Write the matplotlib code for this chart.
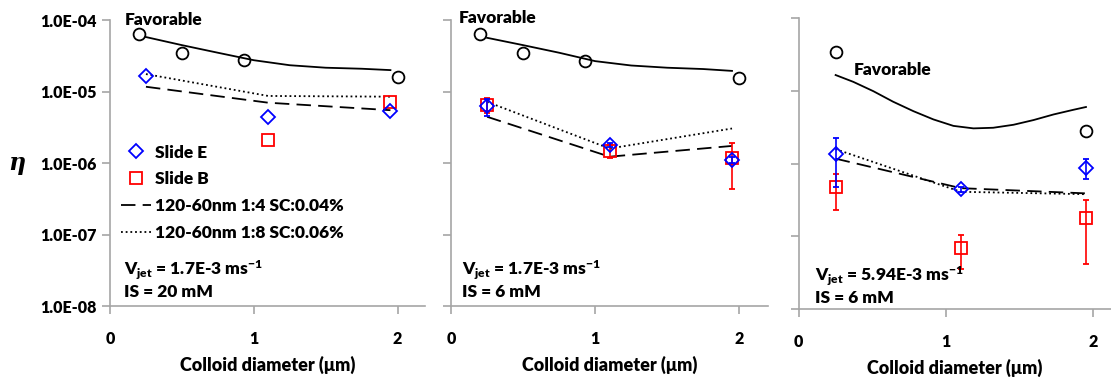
import matplotlib
matplotlib.use("Agg")
import matplotlib.pyplot as plt
from matplotlib.ticker import FixedLocator, FixedFormatter

plt.rcParams['font.family'] = ['Lato', 'DejaVu Sans']
plt.rcParams['font.weight'] = 'heavy'
plt.rcParams['axes.labelweight'] = 'heavy'
plt.rcParams['mathtext.fontset'] = 'custom'
plt.rcParams['mathtext.bf'] = 'Lato:heavy'
plt.rcParams['mathtext.rm'] = 'Lato:heavy'
plt.rcParams['mathtext.default'] = 'bf'

# ---- data ----
y_ticks = [1e-8, 1e-7, 1e-6, 1e-5, 1e-4]
y_tick_labels = ["1.0E-08", "1.0E-07", "1.0E-06", "1.0E-05", "1.0E-04"]
x_ticks = [0, 1, 2]

# panel 1 : Vjet 1.7E-3, IS 20 mM
p1_fav_x = [0.2, 0.5, 0.93, 2.0]
p1_fav_y = [6.5e-5, 3.5e-5, 2.75e-5, 1.6e-5]
p1_favline_x = [0.25, 0.5, 0.75, 1.0, 1.25, 1.5, 1.75, 1.95]
p1_favline_y = [5.8e-5, 4.47e-5, 3.5e-5, 2.75e-5, 2.34e-5, 2.16e-5, 2.09e-5, 2.0e-5]
p1_e_x = [0.25, 1.1, 1.95]
p1_e_y = [1.66e-5, 4.4e-6, 5.3e-6]
p1_b_x = [1.1, 1.95]
p1_b_y = [2.1e-6, 7.1e-6]
p1_dash_x = [0.25, 1.1, 1.95]
p1_dash_y = [1.17e-5, 7.0e-6, 5.5e-6]
p1_dot_x = [0.25, 1.1, 1.95]
p1_dot_y = [1.76e-5, 8.7e-6, 8.5e-6]

# panel 2 : Vjet 1.7E-3, IS 6 mM
p2_fav_x = [0.2, 0.5, 0.93, 2.0]
p2_fav_y = [6.4e-5, 3.5e-5, 2.7e-5, 1.53e-5]
p2_favline_x = [0.25, 0.5, 0.75, 1.0, 1.25, 1.5, 1.75, 1.95]
p2_favline_y = [5.66e-5, 4.47e-5, 3.5e-5, 2.67e-5, 2.32e-5, 2.16e-5, 2.07e-5, 1.95e-5]
p2_e_x = [0.25, 1.1, 1.95]
p2_e_y = [6.2e-6, 1.8e-6, 1.1e-6]
p2_e_err = [1.7e-6, 0.1e-6, 0.1e-6]
p2_b_x = [0.25, 1.1, 1.95]
p2_b_y = [6.6e-6, 1.48e-6, 1.18e-6]
p2_b_err = [1.6e-6, 0.3e-6, 0.75e-6]
p2_dash_x = [0.25, 1.1, 1.95]
p2_dash_y = [4.45e-6, 1.23e-6, 1.74e-6]
p2_dot_x = [0.25, 1.1, 1.95]
p2_dot_y = [7.2e-6, 1.6e-6, 3.05e-6]

# panel 3 : Vjet 5.94E-3, IS 6 mM
p3_fav_x = [0.25, 1.95]
p3_fav_y = [3.45e-5, 2.83e-6]
p3_favline_x = [0.25, 0.37, 0.506, 0.64, 0.778, 0.914, 1.05, 1.186,
                1.32, 1.458, 1.594, 1.73, 1.866, 1.95]
p3_favline_y = [1.65e-5, 1.33e-5, 9.9e-6, 7.1e-6, 5.26e-6, 4.05e-6, 3.3e-6,
                3.05e-6, 3.11e-6, 3.42e-6, 3.97e-6, 4.74e-6, 5.5e-6, 6.0e-6]
p3_e_x = [0.25, 1.1, 1.95]
p3_e_y = [1.35e-6, 4.43e-7, 8.8e-7]
p3_e_err = [0.87e-6, 0.3e-7, 0.26e-6]
p3_b_x = [0.25, 1.1, 1.95]
p3_b_y = [4.72e-7, 7.0e-8, 1.77e-7]
p3_b_err = [0.245e-6, 0.34e-7, 0.135e-6]
p3_dash_x = [0.25, 1.1, 1.95]
p3_dash_y = [1.17e-6, 4.6e-7, 3.9e-7]
p3_dot_x = [0.25, 1.1, 1.95]
p3_dot_y = [1.58e-6, 4.1e-7, 3.8e-7]

AXIS_GREY = '#A6A6A6'
BLUE = '#0000FF'
RED = '#FF0000'
FS = 12.5
TICK_FS = 11.5


def style_axes(ax, xmax, show_ylabels):
    ax.set_yscale('log')
    ax.set_ylim(1e-8, 1e-4)
    ax.set_xlim(0, xmax)
    for s in ['top', 'right']:
        ax.spines[s].set_visible(False)
    for s in ['left', 'bottom']:
        ax.spines[s].set_color(AXIS_GREY)
        ax.spines[s].set_linewidth(1.2)
    ax.yaxis.set_major_locator(FixedLocator(y_ticks))
    ax.yaxis.set_minor_locator(FixedLocator([]))
    if show_ylabels:
        ax.yaxis.set_major_formatter(FixedFormatter(y_tick_labels))
    else:
        ax.yaxis.set_major_formatter(FixedFormatter([''] * len(y_ticks)))
    ax.set_xticks(x_ticks)
    ax.set_xticklabels([str(t) for t in x_ticks])
    ax.tick_params(axis='both', direction='out', color=AXIS_GREY, width=1.2,
                   length=6, labelsize=TICK_FS)
    ax.tick_params(axis='x', pad=12)
    ax.set_xlabel('Colloid diameter (μm)', fontsize=13, labelpad=6)


def draw_panel(ax, fav_x, fav_y, fl_x, fl_y, e_x, e_y, b_x, b_y,
               dash_x, dash_y, dot_x, dot_y, e_err=None, b_err=None):
    ax.plot(fl_x, fl_y, color='black', lw=1.3)
    ax.plot(dash_x, dash_y, color='black', lw=1.3, dashes=(8, 4),
            label='120-60nm 1:4 SC:0.04%')
    ax.plot(dot_x, dot_y, color='black', lw=1.3, dashes=(1, 1.6),
            label='120-60nm 1:8 SC:0.06%')
    ax.plot(fav_x, fav_y, 'o', mfc='none', mec='black', ms=8.5, mew=1.3)
    ax.errorbar(b_x, b_y, yerr=b_err, fmt='s', mfc='none', mec=RED, ms=8,
                mew=1.3, ecolor=RED, elinewidth=1.2, capsize=2,
                label='Slide B', zorder=3)
    ax.errorbar(e_x, e_y, yerr=e_err, fmt='D', mfc='none', mec=BLUE, ms=7,
                mew=1.3, ecolor=BLUE, elinewidth=1.2, capsize=2,
                label='Slide E', zorder=4)


fig = plt.figure(figsize=(11.11, 3.77), dpi=100)
ax1 = fig.add_axes([0.099, 0.188, 0.2835, 0.7586])
ax2 = fig.add_axes([0.406, 0.188, 0.2853, 0.7586])
ax3 = fig.add_axes([0.719, 0.180, 0.281, 0.772])

draw_panel(ax1, p1_fav_x, p1_fav_y, p1_favline_x, p1_favline_y,
           p1_e_x, p1_e_y, p1_b_x, p1_b_y, p1_dash_x, p1_dash_y,
           p1_dot_x, p1_dot_y)
draw_panel(ax2, p2_fav_x, p2_fav_y, p2_favline_x, p2_favline_y,
           p2_e_x, p2_e_y, p2_b_x, p2_b_y, p2_dash_x, p2_dash_y,
           p2_dot_x, p2_dot_y, e_err=p2_e_err, b_err=p2_b_err)
draw_panel(ax3, p3_fav_x, p3_fav_y, p3_favline_x, p3_favline_y,
           p3_e_x, p3_e_y, p3_b_x, p3_b_y, p3_dash_x, p3_dash_y,
           p3_dot_x, p3_dot_y, e_err=p3_e_err, b_err=p3_b_err)

style_axes(ax1, 2.19, True)
style_axes(ax2, 2.2, False)
style_axes(ax3, 2.12, False)

fig.text(0.007, 0.567, 'η', fontsize=17, family='DejaVu Serif',
         style='italic', fontweight='bold', ha='left', va='center')

# legend in first panel
h, l = ax1.get_legend_handles_labels()
order = ['Slide E', 'Slide B', '120-60nm 1:4 SC:0.04%', '120-60nm 1:8 SC:0.06%']
hd = dict(zip(l, h))
ax1.legend([hd[k] for k in order], order, loc='upper left',
           bbox_to_anchor=(0.035, 0.565), frameon=False, fontsize=FS,
           handlelength=1.7, handletextpad=0.25, labelspacing=0.62,
           borderaxespad=0, borderpad=0)

# annotations
ax1.text(0.1, 1.0e-4, 'Favorable', fontsize=FS, ha='left', va='center')
ax2.text(0.05, 1.08e-4, 'Favorable', fontsize=FS, ha='left', va='center')
ax3.text(0.37, 1.95e-5, 'Favorable', fontsize=FS, ha='left', va='center')

ax1.text(0.1, 1.2e-8, 'V$_{jet}$ = 1.7E-3 ms$^{-1}$\nIS = 20 mM',
         fontsize=FS, ha='left', va='bottom', linespacing=1.2)
ax2.text(0.075, 1.2e-8, 'V$_{jet}$ = 1.7E-3 ms$^{-1}$\nIS = 6 mM',
         fontsize=FS, ha='left', va='bottom', linespacing=1.2)
ax3.text(0.11, 1.12e-8, 'V$_{jet}$ = 5.94E-3 ms$^{-1}$\nIS = 6 mM',
         fontsize=FS, ha='left', va='bottom', linespacing=1.1)

fig.savefig('out.png', dpi=100)
